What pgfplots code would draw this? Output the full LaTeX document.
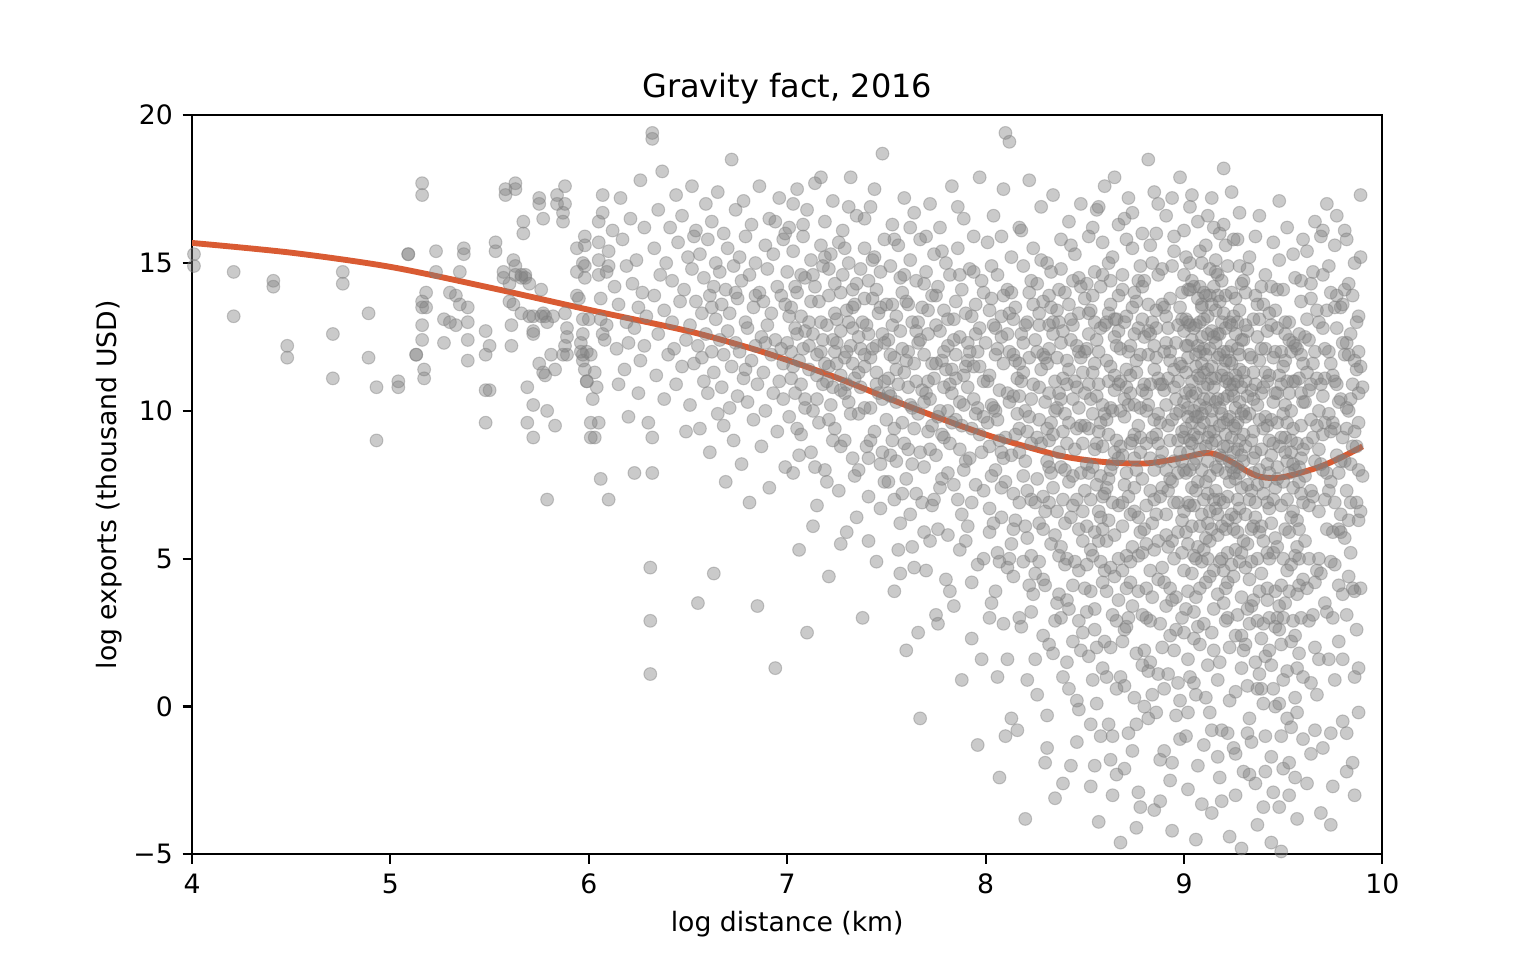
\documentclass[border=0pt]{standalone}
\usepackage{fontspec}
\setmainfont{DejaVu Sans}
\usepackage{pgfplots}
\usepackage{pgfplotstable}
\pgfplotsset{compat=1.18}
\definecolor{lineorange}{RGB}{217,91,51}
\definecolor{ptgray}{RGB}{128,128,128}
\pgfplotstableread{
x y
4.01 15.3
4.01 14.9
4.21 14.7
4.21 13.2
4.41 14.4
4.41 14.2
4.48 12.2
4.48 11.8
4.71 12.6
4.71 11.1
4.76 14.7
4.76 14.3
4.89 13.3
4.89 11.8
4.93 10.8
4.93 9.0
5.04 11.0
5.04 10.8
5.09 15.3
5.09 15.3
5.13 11.9
5.13 11.9
5.16 17.7
5.16 17.3
5.16 13.7
5.16 13.5
5.18 13.5
5.18 14.0
5.16 12.9
5.16 12.4
5.17 11.4
5.17 11.1
5.23 15.4
5.23 14.7
5.27 13.1
5.27 12.3
5.30 14.0
5.33 13.9
5.30 13.0
5.33 12.9
5.35 14.7
5.35 13.6
5.37 15.5
5.37 15.3
5.39 13.5
5.39 13.0
5.39 12.4
5.39 11.7
5.48 12.7
5.48 11.9
5.48 10.7
5.50 10.7
5.48 9.6
5.50 12.2
5.53 15.7
5.53 15.4
5.58 17.5
5.58 17.3
5.63 17.7
5.63 17.5
5.67 16.4
5.67 16.0
5.57 14.7
5.57 14.5
5.60 14.3
5.62 15.1
5.63 14.9
5.63 14.6
5.60 13.7
5.62 13.6
5.61 12.9
5.61 12.2
5.66 14.6
5.66 14.5
5.68 14.6
5.68 14.5
5.70 14.3
5.66 13.3
5.70 13.2
5.72 13.2
5.72 12.7
5.72 12.6
5.69 10.8
5.72 10.2
5.69 9.6
5.72 9.1
5.75 17.2
5.75 17.0
5.77 16.5
5.84 17.3
5.84 17.0
5.88 17.6
5.88 17.0
5.87 16.7
5.87 16.4
5.76 14.1
5.77 13.3
5.76 13.2
5.79 13.0
5.78 13.2
5.82 13.2
5.88 13.3
5.75 11.6
5.77 11.3
5.78 11.2
5.83 11.4
5.81 11.9
5.87 11.9
5.79 10.0
5.83 9.5
5.89 12.8
5.89 12.5
5.88 12.2
5.89 11.9
5.79 7.0
5.94 15.5
5.98 15.9
5.98 15.6
5.94 14.7
5.97 15.0
5.98 14.9
5.98 14.5
5.94 13.9
5.95 13.8
5.97 13.1
6.00 13.1
5.97 11.9
5.97 11.7
5.98 11.4
5.99 11.0
5.99 11.0
5.97 12.6
5.96 12.3
5.99 12.0
5.96 12.0
6.01 11.9
6.02 10.4
6.03 11.3
6.04 10.8
6.01 9.6
6.03 9.1
6.01 9.1
6.05 9.6
6.06 7.7
6.07 17.3
6.07 16.7
6.05 16.4
6.05 15.7
6.05 15.1
6.05 14.6
6.06 13.8
6.06 13.1
6.07 12.6
6.08 12.4
6.09 12.9
6.10 15.4
6.09 14.7
6.10 14.9
6.10 7.0
6.12 16.1
6.13 14.2
6.14 12.1
6.15 13.6
6.15 10.9
6.16 17.2
6.17 15.8
6.18 11.4
6.19 14.9
6.19 13.0
6.20 12.3
6.20 9.8
6.21 16.5
6.22 14.3
6.23 7.9
6.23 12.8
6.24 15.1
6.25 13.5
6.25 10.6
6.26 17.8
6.26 11.7
6.27 14.0
6.28 12.2
6.28 16.2
6.29 13.2
6.30 9.6
6.31 1.1
6.31 2.9
6.31 4.7
6.32 19.4
6.32 19.2
6.32 9.1
6.32 7.9
6.33 13.9
6.33 15.5
6.34 11.2
6.35 16.8
6.35 12.6
6.36 14.6
6.37 18.1
6.38 10.4
6.38 13.4
6.39 15.0
6.40 11.9
6.41 16.2
6.42 13.0
6.42 14.4
6.43 12.1
6.44 17.3
6.44 10.9
6.45 15.7
6.46 13.7
6.47 11.5
6.47 16.6
6.48 14.1
6.49 12.4
6.49 9.3
6.50 15.2
6.51 12.9
6.51 10.2
6.52 17.6
6.52 14.8
6.53 11.6
6.54 13.7
6.54 16.1
6.55 3.5
6.55 12.2
6.56 15.3
6.56 9.4
6.57 13.3
6.58 11.0
6.58 14.5
6.59 17.0
6.59 12.6
6.60 10.6
6.60 15.8
6.61 13.9
6.61 8.6
6.62 12.0
6.62 16.4
6.63 4.5
6.63 14.2
6.63 11.3
6.64 13.1
6.64 15.0
6.65 9.9
6.65 17.4
6.66 12.4
6.66 14.7
6.67 10.8
6.67 13.6
6.68 16.0
6.68 11.9
6.69 7.6
6.69 14.1
6.70 12.7
6.70 15.5
6.71 10.1
6.71 13.3
6.72 18.5
6.72 11.5
6.73 14.9
6.73 9.0
6.74 12.3
6.74 16.8
6.75 13.8
6.75 10.5
6.76 15.2
6.76 12.0
6.77 14.4
6.77 8.2
6.78 11.1
6.78 17.1
6.79 13.0
6.79 15.9
6.80 10.3
6.80 12.8
6.81 14.6
6.81 6.9
6.82 11.7
6.82 16.3
6.83 13.5
6.83 9.7
6.84 12.2
6.84 15.0
6.85 3.4
6.85 10.9
6.86 14.0
6.86 17.6
6.87 12.5
6.87 8.8
6.88 13.7
6.88 11.3
6.89 15.6
6.89 10.0
6.90 12.9
6.90 14.8
6.91 7.4
6.91 16.5
6.92 11.9
6.92 13.3
6.93 10.6
6.93 15.3
6.94 1.3
6.94 12.4
6.95 14.2
6.95 9.3
6.96 17.2
6.96 11.0
6.97 13.9
6.97 12.1
6.98 15.8
6.98 10.4
6.99 8.1
6.99 13.6
6.99 16.0
6.53 15.9
6.57 11.8
6.62 13.5
6.68 9.5
6.74 14.0
6.79 11.4
6.84 13.9
6.89 12.3
6.94 16.4
6.98 11.6
7.00 12.3
7.00 14.7
7.01 9.8
7.01 16.2
7.02 11.1
7.02 13.5
7.03 7.9
7.03 15.4
7.04 10.6
7.04 12.8
7.05 17.5
7.05 14.0
7.06 11.7
7.06 5.3
7.07 13.2
7.07 9.2
7.08 15.9
7.08 12.1
7.09 10.4
7.09 14.5
7.10 2.5
7.10 16.8
7.11 11.4
7.11 13.0
7.12 8.6
7.12 15.1
7.13 12.6
7.13 10.0
7.14 14.2
7.14 17.7
7.15 11.2
7.15 6.8
7.16 13.7
7.16 9.6
7.17 15.6
7.17 12.0
7.18 10.9
7.18 14.9
7.19 8.0
7.19 16.4
7.20 12.9
7.20 11.0
7.21 13.9
7.21 4.4
7.22 15.3
7.22 10.2
7.23 12.4
7.23 17.1
7.24 9.4
7.24 14.3
7.25 11.6
7.25 13.1
7.26 7.3
7.26 15.7
7.27 10.7
7.27 12.7
7.28 16.1
7.28 14.6
7.29 9.0
7.29 11.8
7.30 13.4
7.30 5.9
7.31 15.0
7.31 10.3
7.32 12.2
7.32 17.9
7.33 8.4
7.33 14.1
7.34 11.1
7.34 13.6
7.35 6.4
7.35 16.6
7.36 12.5
7.36 9.9
7.37 14.8
7.37 10.8
7.38 3.0
7.38 13.0
7.39 15.5
7.39 11.5
7.40 8.8
7.40 12.9
7.41 14.4
7.41 7.1
7.42 16.9
7.42 10.1
7.43 12.1
7.43 13.8
7.44 9.3
7.44 15.2
7.45 11.3
7.45 4.9
7.46 13.3
7.46 10.6
7.47 14.7
7.47 8.2
7.48 12.6
7.48 18.7
7.49 11.0
7.49 15.8
7.50 9.7
7.50 13.6
7.02 12.0
7.04 14.2
7.07 10.9
7.09 12.7
7.12 13.7
7.15 11.9
7.18 12.4
7.21 11.5
7.24 13.3
7.27 11.2
7.30 12.0
7.33 12.8
7.36 11.3
7.39 13.8
7.42 11.8
7.45 12.2
7.48 10.4
7.06 8.5
7.13 6.1
7.20 7.6
7.27 8.8
7.34 7.8
7.41 5.6
7.47 6.7
7.03 17.0
7.17 17.9
7.31 16.9
7.44 17.5
7.01 13.2
7.03 11.5
7.05 12.6
7.07 14.6
7.09 10.1
7.11 12.2
7.13 14.6
7.15 10.4
7.17 13.0
7.19 11.6
7.21 14.8
7.23 10.8
7.25 12.3
7.27 14.0
7.29 10.6
7.31 13.0
7.33 11.6
7.35 14.3
7.37 12.1
7.39 10.1
7.41 12.6
7.43 15.1
7.45 10.9
7.47 13.5
7.49 12.3
7.05 9.4
7.14 8.1
7.23 9.0
7.32 9.9
7.41 8.4
7.49 7.6
7.08 16.3
7.19 15.2
7.29 15.5
7.39 16.5
7.51 12.4
7.51 7.6
7.52 14.9
7.52 10.5
7.53 16.3
7.53 9.0
7.54 11.8
7.54 3.9
7.55 13.2
7.55 8.3
7.56 15.6
7.56 10.9
7.57 12.7
7.57 6.2
7.58 14.0
7.58 9.6
7.59 17.2
7.59 11.3
7.60 1.9
7.60 13.7
7.61 8.7
7.61 12.0
7.62 15.1
7.62 10.2
7.63 5.4
7.63 13.0
7.64 11.6
7.64 16.7
7.65 7.2
7.65 14.4
7.66 9.9
7.66 12.3
7.67 -0.4
7.67 15.8
7.68 10.7
7.68 13.5
7.69 8.1
7.69 11.9
7.70 14.7
7.70 4.6
7.71 12.6
7.71 9.3
7.72 17.0
7.72 10.4
7.73 13.9
7.73 6.8
7.74 11.1
7.74 15.3
7.75 8.5
7.75 12.9
7.76 2.8
7.76 14.2
7.77 10.0
7.77 16.2
7.78 11.7
7.78 7.7
7.79 13.4
7.79 9.1
7.80 15.0
7.80 11.4
7.81 5.8
7.81 12.2
7.82 14.6
7.82 8.9
7.83 10.6
7.83 17.6
7.84 13.1
7.84 3.4
7.85 11.9
7.85 9.7
7.86 15.5
7.86 7.0
7.87 12.5
7.87 10.3
7.88 14.1
7.88 0.9
7.89 11.2
7.89 16.5
7.90 8.3
7.90 13.3
7.91 10.8
7.91 6.1
7.92 14.8
7.92 12.0
7.93 9.4
7.93 4.2
7.94 15.9
7.94 11.5
7.95 7.5
7.95 13.6
7.96 10.1
7.96 -1.3
7.97 12.8
7.97 17.9
7.98 8.6
7.98 14.4
7.99 11.0
7.99 5.0
7.52 11.9
7.55 10.3
7.58 12.1
7.61 10.8
7.64 9.4
7.67 12.4
7.70 10.6
7.73 11.6
7.76 9.8
7.79 12.0
7.82 10.9
7.85 13.7
7.88 9.5
7.91 12.3
7.94 10.4
7.97 9.2
7.53 13.6
7.59 14.6
7.65 11.0
7.71 13.4
7.77 12.7
7.83 11.4
7.89 10.2
7.95 12.6
7.54 7.0
7.62 6.5
7.69 5.9
7.75 3.1
7.81 7.9
7.87 5.3
7.93 2.3
7.99 7.3
7.51 10.6
7.53 12.9
7.55 11.4
7.57 14.5
7.59 8.9
7.61 13.6
7.63 10.1
7.65 12.7
7.67 8.6
7.69 14.3
7.71 11.0
7.73 9.5
7.75 13.9
7.77 7.4
7.79 10.8
7.81 13.1
7.83 9.6
7.85 11.1
7.87 14.6
7.89 8.0
7.91 11.7
7.93 13.2
7.95 9.9
7.97 11.5
7.99 14.0
7.52 8.5
7.56 5.3
7.60 7.7
7.64 4.7
7.68 6.9
7.72 8.7
7.76 6.0
7.80 4.3
7.84 7.5
7.88 6.5
7.92 8.4
7.96 4.8
7.54 15.8
7.62 16.2
7.70 15.9
7.78 15.4
7.86 16.9
7.94 14.7
7.21 9.7
7.24 12.0
7.27 5.5
7.30 10.9
7.33 13.5
7.36 8.0
7.39 11.9
7.42 9.0
7.45 14.1
7.48 8.6
7.51 11.1
7.54 9.4
7.57 4.5
7.60 11.7
7.63 8.2
7.66 13.0
7.69 10.3
7.72 5.6
7.75 11.6
7.78 9.2
7.81 10.0
7.84 12.4
7.87 8.7
7.90 11.5
7.93 6.9
7.96 12.0
7.99 9.8
7.58 7.2
7.66 2.5
7.74 7.0
7.82 3.9
7.90 5.6
7.98 1.6
8.00 12.3
8.01 9.6
8.01 15.7
8.02 6.7
8.02 11.2
8.03 13.8
8.03 3.5
8.04 10.1
8.04 16.6
8.05 8.0
8.05 12.8
8.06 14.6
8.06 5.2
8.07 10.7
8.07 -2.4
8.08 13.2
8.08 7.4
8.09 11.6
8.09 17.5
8.10 9.1
8.10 19.4
8.11 14.1
8.11 1.6
8.12 19.1
8.12 12.0
8.13 8.5
8.13 15.2
8.14 10.5
8.14 4.4
8.15 13.5
8.15 6.3
8.16 11.1
8.16 -0.8
8.17 16.2
8.17 9.4
8.18 12.6
8.18 2.7
8.19 7.8
8.19 14.9
8.20 10.0
8.20 -3.8
8.21 13.0
8.21 5.7
8.22 11.8
8.22 17.8
8.23 8.9
8.23 3.2
8.24 15.5
8.24 10.9
8.25 6.9
8.25 12.4
8.26 0.4
8.26 14.3
8.27 9.7
8.27 4.9
8.28 11.4
8.28 16.9
8.29 7.1
8.29 13.7
8.30 -1.9
8.30 10.3
8.31 15.0
8.31 8.3
8.32 12.1
8.32 2.1
8.33 5.5
8.33 14.7
8.34 9.2
8.34 17.3
8.35 11.0
8.35 -3.1
8.36 13.4
8.36 6.6
8.37 10.6
8.37 3.8
8.38 15.8
8.38 8.1
8.39 12.7
8.39 1.0
8.40 14.0
8.40 9.9
8.41 5.0
8.41 11.7
8.42 16.4
8.42 7.6
8.43 -2.0
8.43 13.1
8.44 10.4
8.44 4.1
8.45 15.3
8.45 8.7
8.46 12.2
8.46 0.2
8.47 6.0
8.47 14.5
8.48 9.5
8.48 17.0
8.49 11.3
8.49 2.5
8.50 13.8
8.50 7.3
8.01 11.0
8.04 12.9
8.06 9.7
8.09 13.9
8.12 10.3
8.14 11.9
8.17 8.6
8.19 12.3
8.22 9.8
8.24 13.6
8.27 10.8
8.29 11.9
8.32 9.0
8.34 12.6
8.37 13.0
8.39 9.3
8.42 11.4
8.44 12.9
8.47 10.1
8.49 8.9
8.02 5.9
8.05 3.9
8.08 6.4
8.11 4.7
8.14 7.2
8.17 3.0
8.20 6.1
8.23 5.1
8.26 7.7
8.29 4.3
8.32 6.9
8.35 2.9
8.38 5.4
8.41 3.6
8.44 6.8
8.47 4.6
8.03 14.9
8.08 15.9
8.13 14.0
8.18 16.1
8.23 14.4
8.28 15.1
8.33 13.5
8.38 14.8
8.43 15.6
8.48 14.2
8.10 -1.0
8.21 0.9
8.31 -0.3
8.41 1.5
8.46 -1.2
8.02 8.8
8.04 6.2
8.05 11.9
8.07 9.0
8.08 12.5
8.10 7.6
8.11 10.6
8.13 5.5
8.14 13.1
8.16 9.9
8.17 6.9
8.19 11.3
8.20 8.3
8.22 14.0
8.23 10.4
8.25 4.5
8.26 12.0
8.28 8.9
8.29 6.0
8.31 11.6
8.32 13.9
8.34 7.4
8.35 10.0
8.37 5.1
8.38 12.3
8.40 8.0
8.41 10.9
8.43 6.4
8.44 14.4
8.46 9.4
8.47 12.0
8.49 5.6
8.50 10.6
8.03 10.2
8.06 12.1
8.09 8.4
8.12 5.0
8.15 9.2
8.18 11.0
8.21 7.3
8.24 3.8
8.27 12.9
8.30 6.6
8.33 9.6
8.36 11.8
8.39 7.0
8.42 3.3
8.45 11.0
8.48 7.9
8.02 13.4
8.07 4.9
8.12 13.3
8.17 10.5
8.22 4.1
8.27 6.2
8.32 10.6
8.37 8.6
8.42 13.6
8.47 2.9
8.02 3.0
8.05 10.0
8.08 8.6
8.11 12.6
8.14 6.0
8.17 11.6
8.20 12.9
8.23 7.0
8.26 9.1
8.29 2.4
8.03 7.8
8.09 2.8
8.15 11.7
8.21 9.3
8.27 13.3
8.06 1.0
8.13 -0.4
8.19 4.9
8.25 1.6
8.30 4.1
8.31 9.4
8.32 12.9
8.33 7.9
8.34 1.8
8.35 5.8
8.36 10.1
8.37 14.1
8.38 3.0
8.39 11.1
8.40 6.2
8.41 8.9
8.42 0.6
8.43 12.4
8.44 7.8
8.45 4.9
8.46 10.8
8.47 13.3
8.48 1.9
8.49 6.6
8.50 12.0
8.30 11.8
8.32 8.1
8.34 13.0
8.36 3.5
8.38 10.4
8.40 4.8
8.42 9.6
8.44 2.2
8.46 7.0
8.48 11.8
8.31 -1.4
8.39 -2.6
8.47 -0.1
8.51 12.1
8.51 4.8
8.52 9.4
8.52 15.9
8.53 7.0
8.53 -0.6
8.54 11.3
8.54 13.9
8.55 2.6
8.55 8.7
8.56 16.8
8.56 10.5
8.57 5.6
8.57 -3.9
8.58 12.8
8.58 7.8
8.59 14.6
8.59 1.3
8.60 9.9
8.60 17.6
8.61 3.9
8.61 11.7
8.62 6.3
8.62 13.3
8.63 -1.8
8.63 10.1
8.64 15.2
8.64 8.2
8.65 4.4
8.65 12.5
8.66 0.6
8.66 9.0
8.67 16.3
8.67 6.8
8.68 11.0
8.68 -4.6
8.69 14.1
8.69 2.2
8.70 7.5
8.70 13.0
8.71 10.8
8.71 5.1
8.72 17.2
8.72 -0.9
8.73 8.9
8.73 12.2
8.74 3.4
8.74 15.5
8.75 6.6
8.75 10.2
8.76 1.8
8.76 13.7
8.77 9.5
8.77 -2.9
8.78 11.9
8.78 5.9
8.79 16.0
8.79 7.7
8.80 14.4
8.80 0.0
8.81 10.6
8.81 4.0
8.82 12.7
8.82 18.5
8.83 8.4
8.83 2.9
8.84 15.0
8.84 6.2
8.85 -3.5
8.85 11.4
8.86 13.4
8.86 9.2
8.87 1.1
8.87 17.0
8.88 7.1
8.88 10.9
8.89 4.7
8.89 14.8
8.90 12.0
8.90 -1.5
8.91 8.0
8.91 16.6
8.92 5.4
8.92 11.1
8.93 13.8
8.93 2.4
8.94 9.7
8.94 -4.2
8.95 15.4
8.95 6.9
8.96 10.4
8.96 3.7
8.97 12.9
8.97 0.8
8.98 8.6
8.98 17.9
8.99 5.2
8.99 11.5
8.52 10.9
8.54 8.1
8.56 12.4
8.58 9.6
8.60 7.2
8.62 11.0
8.64 10.0
8.66 13.1
8.68 8.8
8.70 10.4
8.72 12.0
8.74 9.0
8.76 11.3
8.78 8.6
8.80 12.5
8.82 10.2
8.84 9.1
8.86 11.8
8.88 8.3
8.90 10.7
8.92 12.8
8.94 7.6
8.96 9.9
8.98 11.6
8.53 5.3
8.55 3.3
8.57 6.6
8.59 4.2
8.61 7.4
8.63 2.0
8.65 5.8
8.67 3.6
8.69 6.1
8.71 2.7
8.73 4.9
8.75 0.3
8.77 6.4
8.79 3.1
8.81 5.5
8.83 1.5
8.85 7.0
8.87 4.3
8.89 2.0
8.91 6.5
8.93 4.0
8.95 1.9
8.97 5.9
8.99 3.0
8.51 14.3
8.55 13.0
8.59 15.7
8.63 14.4
8.67 12.7
8.71 15.8
8.75 14.0
8.79 13.1
8.83 15.6
8.87 14.6
8.91 13.2
8.95 15.9
8.99 14.0
8.53 -2.7
8.58 -1.0
8.64 -3.0
8.70 -2.1
8.76 -4.1
8.82 -0.4
8.88 -3.2
8.93 -2.5
8.98 -1.1
8.57 16.9
8.65 17.9
8.74 16.7
8.85 17.4
8.94 17.2
8.50 9.5
8.51 6.1
8.52 12.6
8.53 3.9
8.54 9.9
8.55 14.7
8.56 7.5
8.57 10.9
8.58 4.9
8.59 8.8
8.60 12.9
8.61 5.6
8.62 9.2
8.63 13.6
8.64 6.9
8.65 11.2
8.66 2.9
8.67 8.4
8.68 12.1
8.69 4.6
8.70 9.8
8.71 13.2
8.72 7.1
8.73 10.6
8.74 5.4
8.75 12.6
8.76 8.0
8.77 3.9
8.78 10.1
8.79 14.2
8.80 6.0
8.81 8.9
8.82 11.9
8.83 4.6
8.84 13.0
8.85 9.7
8.86 6.5
8.87 11.1
8.88 2.8
8.89 8.6
8.90 13.5
8.91 5.8
8.92 9.5
8.93 11.7
8.94 3.6
8.95 8.3
8.96 12.3
8.97 6.9
8.98 10.0
8.99 13.1
8.51 8.2
8.53 10.4
8.55 5.9
8.57 12.0
8.59 7.1
8.61 9.7
8.63 4.7
8.65 10.7
8.67 13.9
8.69 8.5
8.71 11.4
8.73 6.5
8.75 9.2
8.77 12.8
8.79 5.2
8.81 10.0
8.83 7.3
8.85 12.2
8.87 8.9
8.89 10.9
8.91 3.4
8.93 7.7
8.95 11.4
8.97 9.0
8.99 6.3
8.52 1.7
8.56 0.1
8.60 2.2
8.64 -1.0
8.68 1.0
8.72 3.0
8.76 -0.6
8.80 1.9
8.84 0.4
8.88 -1.8
8.92 1.1
8.96 -0.3
8.54 16.2
8.62 15.0
8.70 16.5
8.78 14.9
8.86 16.0
8.94 14.9
8.51 3.2
8.52 7.9
8.53 13.4
8.54 5.1
8.55 11.6
8.56 2.0
8.57 9.3
8.58 14.2
8.59 6.0
8.50 4.0
8.52 13.3
8.54 0.9
8.56 8.9
8.58 6.4
8.55 -2.0
8.59 10.2
8.60 4.6
8.61 13.0
8.62 7.7
8.63 11.5
8.64 3.1
8.65 8.6
8.66 12.2
8.67 5.0
8.68 10.0
8.69 14.6
8.70 2.6
8.71 7.9
8.72 10.2
8.73 4.2
8.74 13.5
8.75 7.4
8.76 11.7
8.77 5.1
8.78 9.1
8.79 1.4
8.80 10.9
8.81 6.8
8.82 13.6
8.83 10.9
8.84 3.7
8.85 8.0
8.86 12.8
8.87 5.6
8.88 9.6
8.89 13.6
8.90 4.2
8.91 10.2
8.92 7.3
8.93 12.0
8.94 5.6
8.95 10.8
8.96 2.6
8.97 7.9
8.98 13.5
8.99 9.3
8.61 1.0
8.63 8.0
8.65 13.1
8.67 10.9
8.69 6.9
8.71 4.0
8.73 11.2
8.75 8.4
8.77 14.4
8.79 10.7
8.81 3.0
8.83 12.6
8.85 5.3
8.87 9.9
8.89 7.4
8.91 12.3
8.93 9.0
8.95 5.0
8.97 11.0
8.99 8.3
8.62 -0.6
8.66 -2.3
8.70 0.7
8.74 -1.5
8.78 -3.4
8.82 1.2
8.86 -0.2
8.90 0.6
8.94 -1.9
8.98 0.2
9.00 10.3
9.00 4.6
9.01 13.1
9.01 7.9
9.02 11.8
9.02 -0.2
9.03 15.0
9.03 9.0
9.04 6.1
9.04 12.4
9.05 2.3
9.05 14.2
9.06 10.6
9.06 7.3
9.07 16.4
9.07 11.2
9.08 4.0
9.08 8.7
9.09 13.5
9.09 -3.3
9.10 9.6
9.10 12.1
9.11 5.7
9.11 15.6
9.12 10.9
9.12 1.4
9.13 7.8
9.13 13.9
9.14 11.5
9.14 17.2
9.15 3.3
9.15 9.3
9.16 14.7
9.16 6.7
9.17 -1.7
9.17 12.6
9.18 10.1
9.18 16.0
9.19 5.0
9.19 8.4
9.20 13.3
9.20 18.2
9.21 11.0
9.21 2.9
9.22 7.1
9.22 14.9
9.23 9.8
9.23 -4.4
9.24 12.2
9.24 4.8
9.25 15.8
9.25 10.5
9.26 6.4
9.26 0.5
9.27 13.0
9.27 8.1
9.28 11.4
9.28 16.7
9.29 3.7
9.29 9.9
9.30 14.4
9.30 -2.2
9.01 9.4
9.02 14.1
9.03 6.8
9.04 11.0
9.05 8.2
9.06 12.9
9.07 5.4
9.08 10.2
9.09 13.6
9.10 7.0
9.11 11.9
9.12 9.1
9.13 14.8
9.14 6.0
9.15 10.8
9.16 12.3
9.17 8.0
9.18 13.7
9.19 11.2
9.20 6.9
9.21 9.2
9.22 12.0
9.23 7.6
9.24 10.7
9.25 13.2
9.26 9.4
9.27 5.9
9.28 11.9
9.29 7.4
9.30 10.0
9.00 12.7
9.02 8.6
9.04 14.4
9.06 9.8
9.08 12.0
9.10 10.8
9.12 13.2
9.14 8.9
9.16 11.1
9.18 9.5
9.20 10.4
9.22 8.8
9.24 11.6
9.26 12.6
9.28 9.0
9.01 3.3
9.03 1.0
9.05 5.1
9.07 2.7
9.09 6.5
9.11 0.3
9.13 4.4
9.15 1.9
9.17 5.8
9.19 -0.8
9.21 4.0
9.23 2.0
9.25 6.0
9.27 3.1
9.29 1.3
9.02 -2.8
9.06 -4.5
9.10 -1.3
9.14 -3.6
9.18 -2.4
9.22 -0.9
9.26 -3.0
9.29 -4.8
9.00 16.1
9.04 17.3
9.08 15.4
9.12 16.6
9.16 15.1
9.20 16.3
9.24 17.4
9.28 14.9
9.02 5.5
9.07 7.6
9.12 6.2
9.17 3.8
9.22 5.2
9.27 7.0
9.01 11.3
9.05 10.0
9.09 11.6
9.13 10.4
9.17 13.9
9.21 12.8
9.25 8.6
9.29 12.4
9.00 8.0
9.01 12.2
9.02 6.9
9.03 10.7
9.04 4.5
9.05 12.8
9.06 8.4
9.07 13.8
9.08 6.1
9.09 9.9
9.10 13.1
9.11 7.6
9.12 11.4
9.13 5.6
9.14 9.7
9.15 12.5
9.16 7.3
9.17 10.4
9.18 4.9
9.19 13.0
9.20 8.8
9.21 11.7
9.22 6.3
9.23 10.9
9.24 14.0
9.25 7.9
9.26 10.1
9.27 12.1
9.28 6.7
9.29 10.8
9.30 8.3
9.00 6.6
9.02 10.1
9.03 12.9
9.05 9.2
9.06 5.0
9.08 11.1
9.09 8.0
9.11 13.9
9.12 7.2
9.14 10.0
9.15 14.2
9.17 6.5
9.18 11.9
9.20 9.6
9.21 7.9
9.23 13.0
9.24 9.1
9.26 11.2
9.27 8.7
9.29 14.3
9.01 15.2
9.04 9.6
9.07 12.2
9.10 5.3
9.13 12.1
9.16 9.0
9.19 14.4
9.22 10.5
9.25 4.4
9.28 13.4
9.02 3.9
9.05 0.8
9.08 2.1
9.11 4.2
9.14 2.5
9.17 0.9
9.20 3.5
9.23 0.2
9.26 2.4
9.29 5.2
9.01 -1.0
9.07 -2.0
9.13 -0.2
9.19 -3.2
9.25 -1.4
9.03 16.9
9.09 15.0
9.15 16.2
9.21 15.6
9.27 15.8
9.00 14.6
9.04 7.4
9.08 13.0
9.12 8.3
9.16 13.4
9.20 12.0
9.24 6.5
9.28 10.3
9.02 9.8
9.06 11.5
9.10 11.3
9.14 12.7
9.18 7.0
9.22 9.7
9.26 7.7
9.00 9.1
9.01 5.9
9.02 13.0
9.03 8.0
9.04 10.5
9.05 3.2
9.06 11.9
9.07 9.1
9.08 14.2
9.09 4.9
9.10 10.4
9.11 8.8
9.12 12.6
9.13 6.6
9.14 11.1
9.15 4.6
9.16 10.3
9.17 14.6
9.18 8.5
9.19 6.1
9.20 11.4
9.21 13.9
9.22 4.2
9.23 8.3
9.24 12.9
9.25 9.5
9.26 5.3
9.27 11.0
9.28 7.9
9.29 2.4
9.30 11.3
9.00 2.5
9.02 12.2
9.04 8.9
9.06 3.7
9.08 9.4
9.10 14.0
9.12 5.0
9.14 13.6
9.16 8.1
9.18 12.6
9.20 4.6
9.22 11.1
9.24 8.1
9.26 13.8
9.28 4.9
9.01 10.6
9.03 14.1
9.05 6.8
9.07 9.8
9.09 12.5
9.11 10.1
9.13 9.3
9.15 7.0
9.17 11.8
9.19 9.9
9.21 6.0
9.23 11.7
9.25 10.9
9.27 9.6
9.29 8.5
9.02 1.6
9.06 0.4
9.10 2.8
9.14 -0.8
9.18 1.5
9.22 3.0
9.26 -1.6
9.30 1.9
9.31 8.8
9.31 2.1
9.32 12.7
9.32 5.5
9.33 15.2
9.33 9.9
9.34 -1.2
9.34 7.3
9.35 11.3
9.35 3.6
9.36 13.9
9.36 6.4
9.37 0.6
9.37 10.2
9.38 16.6
9.38 8.0
9.39 4.5
9.39 12.1
9.40 -3.4
9.40 9.4
9.41 14.6
9.41 1.7
9.42 6.9
9.42 11.0
9.43 3.0
9.43 13.3
9.44 8.5
9.44 -4.6
9.45 15.7
9.45 5.2
9.46 10.6
9.46 0.0
9.47 7.7
9.47 12.8
9.48 2.6
9.48 17.1
9.49 9.1
9.49 4.1
9.50 14.1
9.50 -2.1
9.51 6.0
9.51 11.7
9.52 1.2
9.52 8.3
9.53 13.0
9.53 3.9
9.54 10.0
9.54 -0.7
9.55 15.3
9.55 6.6
9.56 12.2
9.56 2.4
9.57 8.9
9.57 -3.8
9.58 11.1
9.58 5.0
9.59 13.7
9.59 7.2
9.60 1.0
9.60 10.3
9.31 11.0
9.33 7.0
9.35 9.3
9.37 12.5
9.39 6.1
9.41 9.8
9.43 7.9
9.45 11.8
9.47 5.4
9.49 10.9
9.51 8.6
9.53 12.4
9.55 9.4
9.57 6.3
9.59 11.9
9.32 3.3
9.34 4.9
9.36 1.5
9.38 5.9
9.40 2.8
9.42 4.0
9.44 1.4
9.46 5.7
9.48 3.4
9.50 0.9
9.52 4.6
9.54 2.2
9.56 5.1
9.58 1.8
9.60 4.3
9.33 -2.3
9.37 -4.0
9.41 -1.0
9.45 -2.9
9.49 -4.9
9.53 -1.9
9.57 -0.2
9.32 14.8
9.36 15.9
9.40 13.6
9.44 14.2
9.48 15.1
9.52 16.2
9.56 14.5
9.60 15.8
9.34 10.7
9.38 13.1
9.42 8.2
9.46 13.4
9.50 7.6
9.54 12.0
9.58 8.1
9.31 6.5
9.35 7.9
9.39 8.7
9.43 6.7
9.47 9.6
9.51 10.2
9.55 7.4
9.59 9.5
9.30 5.6
9.31 9.8
9.32 7.5
9.33 11.9
9.34 3.4
9.35 8.4
9.36 10.9
9.37 5.0
9.38 9.7
9.39 2.3
9.40 7.2
9.41 12.1
9.42 3.6
9.43 9.0
9.44 6.2
9.45 10.3
9.46 2.7
9.47 8.1
9.48 11.2
9.49 6.8
9.50 9.9
9.51 3.5
9.52 7.0
9.53 10.6
9.54 4.8
9.55 8.2
9.56 11.0
9.57 3.8
9.58 7.6
9.59 10.6
9.30 12.4
9.32 0.7
9.34 9.0
9.36 6.9
9.38 1.1
9.40 10.8
9.42 5.2
9.44 12.9
9.46 7.4
9.48 0.1
9.50 5.0
9.52 9.6
9.54 6.4
9.56 0.3
9.58 12.6
9.60 6.9
9.31 14.0
9.35 13.1
9.39 14.2
9.43 11.2
9.47 14.1
9.51 13.0
9.55 12.3
9.59 14.4
9.33 -0.4
9.37 2.9
9.41 -2.2
9.45 0.6
9.49 -1.0
9.53 -3.0
9.57 1.3
9.34 6.0
9.38 11.7
9.42 9.5
9.46 3.9
9.50 11.5
9.54 8.6
9.58 4.1
9.30 9.2
9.31 4.7
9.32 10.5
9.33 2.8
9.34 11.8
9.35 6.1
9.36 8.6
9.37 13.6
9.38 3.9
9.39 10.6
9.40 5.6
9.41 7.6
9.42 12.7
9.43 1.9
9.44 9.7
9.45 7.0
9.46 12.0
9.47 3.0
9.48 8.8
9.49 12.0
9.50 3.0
9.51 9.1
9.52 11.0
9.53 5.9
9.54 9.0
9.55 2.9
9.56 8.0
9.57 12.1
9.58 6.0
9.59 3.0
9.31 12.9
9.33 4.3
9.35 10.4
9.37 7.5
9.39 0.6
9.41 11.3
9.43 5.0
9.45 8.9
9.47 10.6
9.49 2.1
9.51 12.6
9.53 7.9
9.55 11.0
9.57 5.4
9.59 8.4
9.32 -0.9
9.36 -2.6
9.40 0.1
9.44 -1.7
9.48 -3.4
9.52 -0.4
9.56 -2.4
9.60 -1.1
9.61 12.5
9.61 5.6
9.62 8.9
9.62 15.4
9.63 2.9
9.63 10.7
9.64 13.8
9.64 -1.6
9.65 7.1
9.65 11.6
9.66 16.4
9.66 4.2
9.67 9.5
9.67 0.4
9.68 13.0
9.68 6.6
9.69 10.9
9.69 -3.6
9.70 14.6
9.70 8.0
9.71 3.5
9.71 12.1
9.72 17.0
9.72 6.0
9.73 9.9
9.73 1.6
9.74 14.0
9.74 7.6
9.75 11.2
9.75 -2.7
9.76 4.8
9.76 15.6
9.77 8.5
9.77 12.8
9.78 2.2
9.78 10.3
9.79 13.5
9.79 5.9
9.80 -0.5
9.80 9.1
9.81 16.1
9.81 11.9
9.82 7.3
9.82 3.1
9.83 14.3
9.83 10.0
9.84 5.2
9.84 12.6
9.85 -1.9
9.85 8.8
9.86 15.0
9.86 1.0
9.87 11.4
9.87 6.9
9.88 13.2
9.88 9.6
9.89 4.0
9.89 17.3
9.90 10.8
9.90 7.8
9.62 11.3
9.64 9.7
9.66 12.0
9.68 8.7
9.70 10.5
9.72 13.4
9.74 9.3
9.76 11.0
9.78 7.9
9.80 12.3
9.82 10.1
9.84 8.2
9.86 11.7
9.88 6.3
9.63 6.8
9.67 4.6
9.71 7.0
9.75 3.0
9.79 6.5
9.83 4.4
9.87 2.6
9.65 14.7
9.69 15.9
9.73 14.9
9.77 16.6
9.81 14.1
9.85 13.9
9.89 15.2
9.66 -0.8
9.74 -4.0
9.82 -2.2
9.88 -0.2
9.60 8.7
9.61 10.3
9.62 4.0
9.63 12.4
9.64 7.3
9.65 9.1
9.66 2.0
9.67 11.1
9.68 5.0
9.69 8.2
9.70 12.8
9.71 9.6
9.72 3.2
9.73 7.3
9.74 11.6
9.75 5.9
9.76 9.4
9.77 13.9
9.78 6.0
9.79 10.4
9.80 3.8
9.81 8.3
9.82 12.3
9.83 6.3
9.84 10.4
9.85 4.0
9.86 9.3
9.87 13.0
9.88 8.0
9.89 11.5
9.62 -2.6
9.68 1.6
9.74 -0.9
9.80 1.6
9.86 -3.0
9.64 14.3
9.70 16.1
9.76 13.5
9.82 15.8
9.88 12.0
9.60 11.6
9.61 7.8
9.62 13.1
9.63 5.0
9.64 10.9
9.65 3.1
9.66 8.3
9.67 13.4
9.68 10.0
9.69 4.5
9.70 9.2
9.71 11.1
9.72 7.9
9.73 12.0
9.74 4.9
9.75 9.6
9.76 6.9
9.77 10.9
9.78 4.1
9.79 8.3
9.80 13.6
9.81 5.7
9.82 9.4
9.83 11.9
9.84 6.9
9.85 10.9
9.86 3.9
9.87 8.8
9.88 10.6
9.89 6.6
9.64 0.8
9.70 -1.4
9.76 0.9
9.82 -0.9
9.88 1.3
}\scatterdata
\pgfplotstableread{
x y
4.00 15.68
4.50 15.35
5.00 14.87
5.50 14.17
6.00 13.42
6.50 12.70
6.80 12.15
7.00 11.72
7.25 11.12
7.50 10.45
7.75 9.80
8.00 9.20
8.20 8.80
8.40 8.45
8.60 8.27
8.80 8.22
8.95 8.36
9.05 8.50
9.10 8.57
9.15 8.55
9.20 8.42
9.26 8.20
9.32 7.95
9.38 7.78
9.44 7.73
9.50 7.76
9.60 7.93
9.70 8.15
9.80 8.45
9.90 8.80
}\fitdata
\begin{document}
\begin{tikzpicture}
\begin{axis}[
  scale only axis, width=446.4bp, height=277.2bp,
  xmin=4, xmax=10, ymin=-5, ymax=20,
  xtick={4,5,6,7,8,9,10}, ytick={-5,0,5,10,15,20},
  xticklabels={4,5,6,7,8,9,10},
  yticklabels={−5,0,5,10,15,20},
  xtick pos=bottom, ytick pos=left,
  tick align=outside, major tick length=3.5bp,
  tick style={black, line width=0.8bp},
  axis line style={black, line width=0.8bp},
  tick label style={font=\fontsize{10bp}{12bp}\selectfont, inner sep=0pt},
  xticklabel style={anchor=north, yshift=-3.5bp},
  yticklabel style={anchor=east, xshift=-3.5bp},
  every axis title shift=0pt,
  title={Gravity fact, 2016},
  title style={font=\fontsize{12bp}{14bp}\selectfont, at={(axis description cs:0.5,1)}, anchor=base, yshift=6.7bp},
  xlabel={log distance (km)},
  xlabel style={font=\fontsize{10bp}{12bp}\selectfont, at={(axis description cs:0.5,-0.104)}, anchor=base},
  ylabel={log exports (thousand USD)},
  ylabel style={font=\fontsize{10bp}{12bp}\selectfont, at={(axis description cs:-0.063,0.5)}, anchor=base},
]
\addplot[only marks, mark=*, mark size=2.4bp, color=ptgray, mark options={line width=0.4bp, opacity=0.42}] table[x=x,y=y]{\scatterdata};
\addplot[lineorange, line width=2.2bp, smooth] table[x=x,y=y]{\fitdata};
\coordinate (sw) at (rel axis cs:0,0);
\end{axis}
\path (sw) ++(-72bp,-39.6bp) rectangle ++(576bp,360bp);
\end{tikzpicture}
\end{document}
